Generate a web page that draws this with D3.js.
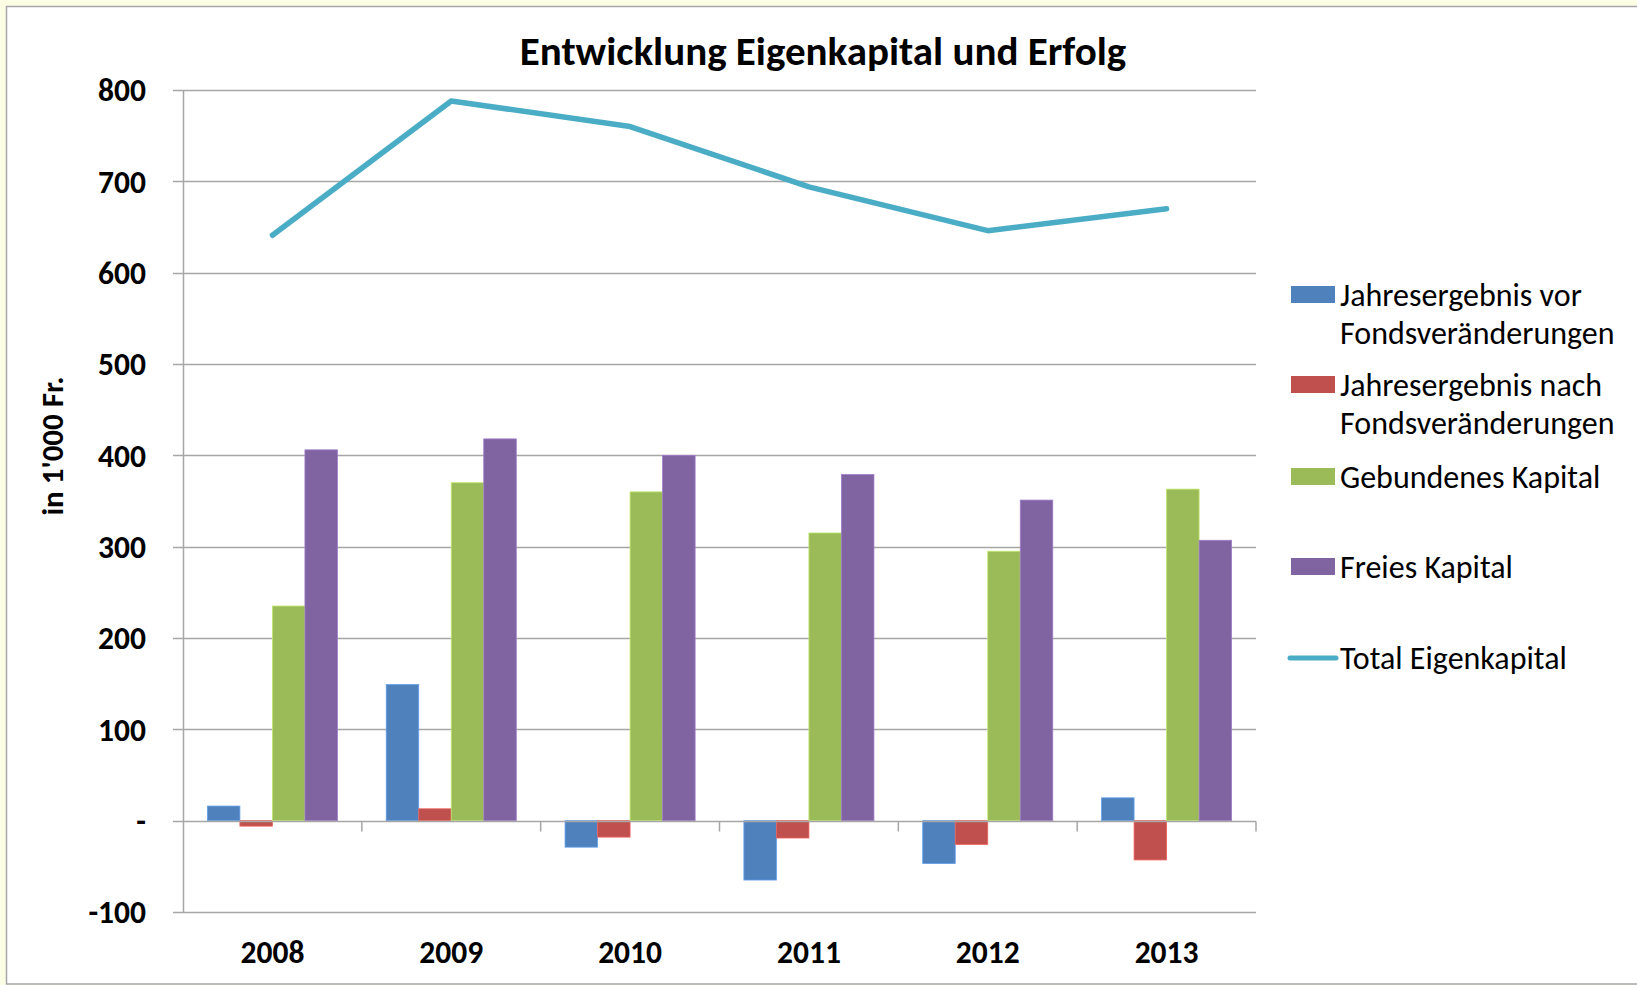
<!DOCTYPE html>
<html>
<head>
<meta charset="utf-8">
<script src="https://cdn.jsdelivr.net/npm/d3@7"></script>
<style>
  html, body { margin: 0; padding: 0; background: #fbfde4; }
  svg { display: block; }
  text { font-family: Carlito, Calibri, Lato, "Open Sans", sans-serif; fill: #000; }
</style>
</head>
<body>
<svg id="chart" width="1637" height="985"></svg>
<script>
// ---- data ----
const years = ["2008", "2009", "2010", "2011", "2012", "2013"];
const barSeries = ["Jahresergebnis vor Fondsveränderungen", "Jahresergebnis nach Fondsveränderungen", "Gebundenes Kapital", "Freies Kapital"];
const vorFonds = [16, 149, -29, -65, -47, 25];
const nachFonds = [-6, 13, -18, -19, -26, -43];
const gebundenesKapital = [235, 370, 360, 315, 295, 363];
const freiesKapital = [406, 418, 400, 379, 351, 307];
const totalEigenkapital = [641, 788, 760, 694, 646, 670];
const lineSeries = "Total Eigenkapital";
const yTicks = [-100, 0, 100, 200, 300, 400, 500, 600, 700, 800];
const yTickLabels = ["-100", "-", "100", "200", "300", "400", "500", "600", "700", "800"];
const legendLines = [["Jahresergebnis vor", "Fondsveränderungen"], ["Jahresergebnis nach", "Fondsveränderungen"], ["Gebundenes Kapital"], ["Freies Kapital"], ["Total Eigenkapital"]];
const title = "Entwicklung Eigenkapital und Erfolg";
const yTitle = "in 1'000 Fr.";

const barColors = ["#4f81bd", "#c0504d", "#9bbb59", "#8064a2"];
const lineColor = "#4bacc6";
const barValues = [vorFonds, nachFonds, gebundenesKapital, freiesKapital];

// ---- layout ----
const svg = d3.select("#chart");
const plot = { left: 183, right: 1256, top: 90, bottom: 912 };

// frame
svg.append("rect").attr("x", 0).attr("y", 0).attr("width", 1637).attr("height", 985).attr("fill", "#fbfde4");
svg.append("rect").attr("x", 6.5).attr("y", 6.5).attr("width", 1640).attr("height", 977.5)
  .attr("fill", "#ffffff").attr("stroke", "#a6a6a6").attr("stroke-width", 1.5);

const x = d3.scaleBand().domain(years).range([plot.left, plot.right]).paddingInner(0).paddingOuter(0);
const xs = d3.scaleBand().domain(barSeries).range([0, x.bandwidth()]).paddingInner(0).paddingOuter(0.75);
const y = d3.scaleLinear().domain([-100, 800]).range([plot.bottom, plot.top]);

// gridlines + y axis
const yAxis = d3.axisLeft(y).tickValues(yTicks).tickSize(0).tickFormat((d, i) => yTickLabels[i]);
const gy = svg.append("g").attr("transform", `translate(${plot.left},0)`).call(yAxis);
gy.select(".domain").remove();
gy.selectAll("text").attr("x", -37).attr("dy", "0.34em").style("font-size", "31.5px").style("font-weight", "bold").style("font-family", "Carlito, Calibri, Lato, sans-serif");

const grid = svg.append("g");
grid.selectAll("line").data(yTicks.filter(d => d !== 0)).join("line")
  .attr("x1", plot.left - 10).attr("x2", plot.right)
  .attr("y1", d => Math.round(y(d)) + 0.5).attr("y2", d => Math.round(y(d)) + 0.5)
  .attr("stroke", "#a6a6a6").attr("stroke-width", 1.5);

// vertical axis line
svg.append("line").attr("x1", plot.left + 0.5).attr("x2", plot.left + 0.5)
  .attr("y1", plot.top).attr("y2", plot.bottom + 0.5)
  .attr("stroke", "#a6a6a6").attr("stroke-width", 1.5);

// bars
const barsG = svg.append("g");
barValues.forEach((vals, si) => {
  barsG.selectAll(null).data(vals).join("rect")
    .attr("x", (d, i) => x(years[i]) + xs(barSeries[si]))
    .attr("width", xs.bandwidth())
    .attr("y", d => y(Math.max(0, d)))
    .attr("height", d => Math.abs(y(d) - y(0)))
    .attr("fill", barColors[si])
    .attr("stroke", d3.color(barColors[si]).brighter(0.6))
    .attr("stroke-width", 0.8);
});

// zero (category) axis with tick marks
const zeroY = Math.round(y(0)) + 0.5;
svg.append("line").attr("x1", plot.left - 10).attr("x2", plot.right)
  .attr("y1", zeroY).attr("y2", zeroY).attr("stroke", "#a6a6a6").attr("stroke-width", 1.5);
const catTicks = years.map(yr => x(yr) + x.bandwidth());
svg.append("g").selectAll("line").data(catTicks).join("line")
  .attr("x1", d => d).attr("x2", d => d).attr("y1", zeroY).attr("y2", zeroY + 10)
  .attr("stroke", "#a6a6a6").attr("stroke-width", 1.5);

// category labels
const xAxis = d3.axisBottom(x).tickSize(0);
const gx = svg.append("g").attr("transform", `translate(0,${plot.bottom})`).call(xAxis);
gx.select(".domain").remove();
gx.selectAll("text").attr("y", 40).attr("dy", "0.34em").style("font-size", "31.5px").style("font-weight", "bold").style("font-family", "Carlito, Calibri, Lato, sans-serif");

// total line
const line = d3.line().x((d, i) => x(years[i]) + x.bandwidth() / 2).y(d => y(d));
svg.append("path").datum(totalEigenkapital).attr("d", line)
  .attr("fill", "none").attr("stroke", lineColor).attr("stroke-width", 5.5)
  .attr("stroke-linecap", "round").attr("stroke-linejoin", "round");

// title
svg.append("text").attr("x", 823).attr("y", 51).attr("dy", "0.35em").attr("text-anchor", "middle")
  .style("font-size", "41px").style("font-weight", "bold").text(title);

// y title
svg.append("text").attr("transform", "translate(52,446) rotate(-90)").attr("text-anchor", "middle").attr("dy", "0.35em")
  .style("font-size", "31px").style("font-weight", "bold").text(yTitle);

// legend
const legendY = [295, 385, 477, 567, 658];
const lg = svg.append("g");
legendLines.forEach((lines, i) => {
  const cy = legendY[i];
  if (i < 4) {
    lg.append("rect").attr("x", 1291).attr("y", cy - 9).attr("width", 44).attr("height", 17).attr("fill", barColors[i]);
  } else {
    lg.append("line").attr("x1", 1290).attr("x2", 1336).attr("y1", cy).attr("y2", cy)
      .attr("stroke", lineColor).attr("stroke-width", 5).attr("stroke-linecap", "round");
  }
  lines.forEach((t, j) => {
    lg.append("text").attr("x", 1340).attr("y", cy + j * 38).attr("dy", "0.35em")
      .style("font-size", "32px").text(t);
  });
});
</script>
</body>
</html>
